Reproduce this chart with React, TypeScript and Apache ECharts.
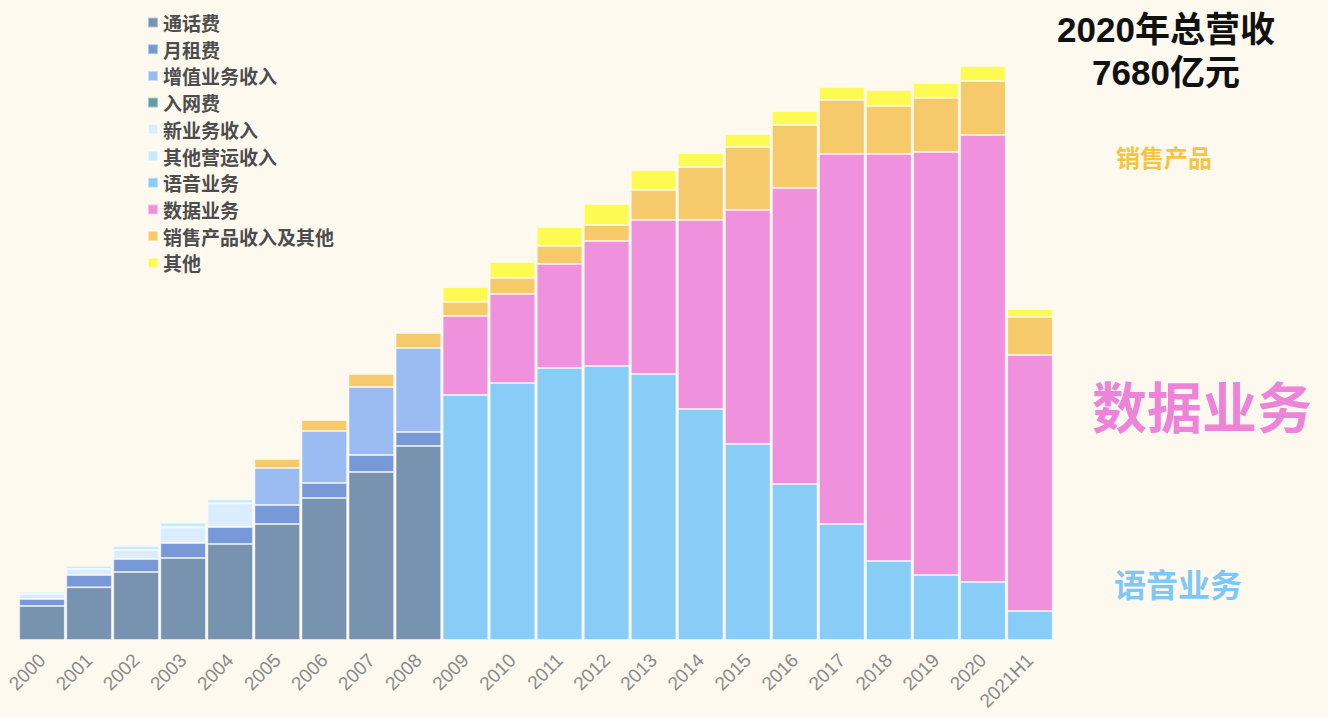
import React, { useEffect, useRef } from "react";
import * as echarts from "echarts";

const years = ["2000","2001","2002","2003","2004","2005","2006","2007","2008","2009","2010","2011","2012","2013","2014","2015","2016","2017","2018","2019","2020","2021H1"];

// 亿元
const callFee =      [455, 705, 910, 1097, 1285, 1552, 1900, 2248, 2596, null, null, null, null, null, null, null, null, null, null, null, null, null];
const monthlyFee =   [94, 165, 174, 201, 227, 254, 201, 227, 187, null, null, null, null, null, null, null, null, null, null, null, null, null];
const valueAdded =   [null, null, null, null, null, 495, 696, 910, 1124, null, null, null, null, null, null, null, null, null, null, null, null, null];
const connFee =      [null, null, null, null, null, null, null, null, null, null, null, null, null, null, null, null, null, null, null, null, null, null];
const newBiz =       [67, 80, 120, 210, 317, null, null, null, null, null, null, null, null, null, null, null, null, null, null, null, null, null];
const otherOps =     [30, 44, 54, 63, 54, null, null, null, null, null, null, null, null, null, null, null, null, null, null, null, null, null];
const voice =        [null, null, null, null, null, null, null, null, null, 3278, 3439, 3639, 3666, 3559, 3091, 2622, 2087, 1552, 1057, 870, 776, 388];
const data =         [null, null, null, null, null, null, null, null, null, 1057, 1191, 1392, 1673, 2061, 2529, 3131, 3960, 4951, 5446, 5660, 5980, 3425];
const sales =        [null, null, null, null, null, 120, 147, 174, 201, 187, 214, 241, 214, 401, 709, 843, 843, 723, 642, 723, 723, 508];
const others =       [null, null, null, null, null, null, null, null, null, 201, 214, 254, 281, 268, 187, 174, 187, 174, 214, 201, 201, 107];

const seriesNames = ["通话费","月租费","增值业务收入","入网费","新业务收入","其他营运收入","语音业务","数据业务","销售产品收入及其他","其他"];
const seriesData = [callFee, monthlyFee, valueAdded, connFee, newBiz, otherOps, voice, data, sales, others];
const seriesColors = ["#7793b0","#7799d8","#9bbcf2","#5f9ea0","#dbedfc","#c6ecfb","#87cdf8","#f091de","#f6c96a","#fdfa52"];

const FONT = "'Noto Sans CJK SC', 'Noto Sans', sans-serif";
const TITLE_FONT = "'Liberation Sans', 'Noto Sans CJK SC', sans-serif";

export default function App() {
  const ref = useRef<HTMLDivElement>(null);
  useEffect(() => {
    if (!ref.current) return;
    const chart = echarts.init(ref.current, null, { renderer: "svg" });
    chart.setOption({
      animation: false,
      backgroundColor: "#fdf9ee",
      textStyle: { fontFamily: FONT },
      legend: {
        orient: "vertical",
        left: 142,
        top: 8,
        itemWidth: 10,
        itemHeight: 10,
        itemGap: 7.7,
        icon: "rect",
        textStyle: { fontSize: 19, color: "#4d4d4d", fontWeight: "bold", fontFamily: FONT },
        data: seriesNames,
      },
      grid: { left: 18.5, right: 274.5, top: 66, bottom: 77, containLabel: false },
      xAxis: {
        type: "category",
        data: years,
        axisLine: { show: false },
        axisTick: { show: false },
        axisLabel: { rotate: 45, fontSize: 19, color: "#8a8a8a", margin: 17, interval: 0, fontFamily: "'Liberation Sans', Arial, sans-serif" },
      },
      yAxis: { type: "value", min: 0, max: 7680, show: false, splitLine: { show: false } },
      series: seriesNames.map((name, i) => ({
        name,
        type: "bar",
        stack: "total",
        barCategoryGap: "3%",
        data: seriesData[i],
        itemStyle: { color: seriesColors[i], borderColor: "rgba(255,255,255,0.45)", borderWidth: 1 },
      })),
      graphic: [
        { type: "text", x: 1166, y: 8, style: { text: "2020年总营收\n7680亿元", font: `bold 35px ${TITLE_FONT}`, lineHeight: 43, fill: "#111", textAlign: "center", textVerticalAlign: "top" } },
        { type: "text", left: 1116, top: 144, style: { text: "销售产品", font: `bold 24px ${FONT}`, fill: "#f5c445" } },
        { type: "text", left: 1092, top: 376, style: { text: "数据业务", font: `bold 55px ${FONT}`, fill: "#ee84da" } },
        { type: "text", left: 1114, top: 567, style: { text: "语音业务", font: `bold 32px ${FONT}`, fill: "#7dc8f6" } },
      ],
    });
    return () => chart.dispose();
  }, []);
  return <div ref={ref} style={{ position: "fixed", left: 0, top: 0, width: 1328, height: 717 }} />;
}
